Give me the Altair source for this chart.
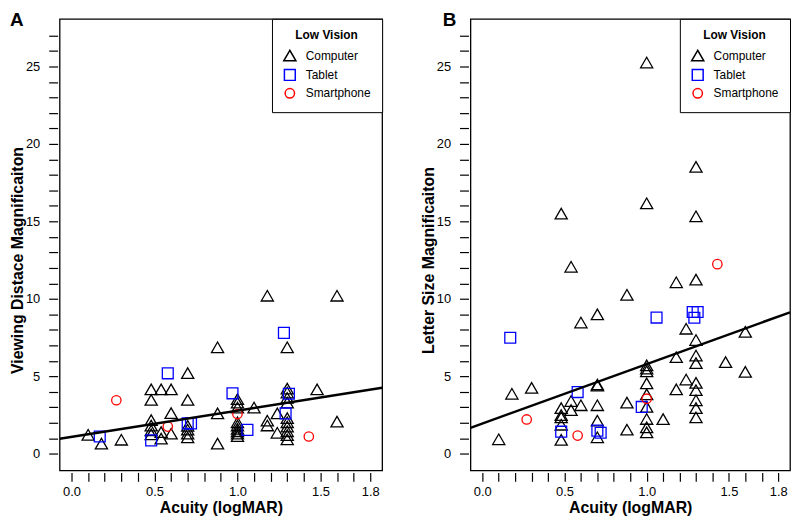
import altair as alt
import pandas as pd

# ---------------- data ----------------
devices = ["Computer", "Tablet", "Smartphone"]
dev_shapes = ["triangle-up", "square", "circle"]
dev_colors = ["#000000", "#0000FF", "#FF0000"]
dev_sizes = [150, 90, 100]

# Computer: acuity (logMAR) -> list of magnification values
computer_A = {
    0.1: [1.22], 0.18: [0.65], 0.3: [0.90],
    0.48: [4.15, 3.47, 2.17, 1.81, 1.5, 1.25],
    0.54: [4.15, 1.39, 0.97],
    0.6: [4.15, 2.62, 1.29],
    0.7: [5.2, 3.47, 1.8, 1.55, 1.3, 1.05],
    0.88: [6.87, 2.6, 0.65],
    1.0: [3.52, 3.3, 2.98, 2.03, 1.82, 1.6, 1.45, 1.29, 1.13],
    1.1: [2.98],
    1.18: [10.2, 2.13, 1.82],
    1.24: [2.6, 1.35],
    1.3: [6.87, 4.2, 3.95, 3.6, 3.3, 2.3, 2.03, 1.75, 1.45, 1.2, 0.92],
    1.48: [4.15],
    1.6: [10.2, 2.07],
}
computer_B = {
    0.1: [0.93], 0.18: [3.87], 0.3: [4.25],
    0.48: [15.5, 2.94, 2.49, 2.34, 1.87, 0.89],
    0.54: [12.07, 3.40, 2.81],
    0.6: [8.47, 3.13],
    0.7: [9.0, 4.47, 4.4, 3.13, 2.13, 1.06],
    0.88: [10.26, 3.3, 1.55],
    1.0: [25.26, 16.17, 5.70, 5.5, 5.32, 4.54, 3.83, 3.02, 2.24, 1.70, 1.38],
    1.1: [2.23],
    1.18: [11.07, 6.23, 4.15],
    1.24: [8.07, 4.79],
    1.3: [18.52, 15.33, 11.24, 7.34, 6.34, 5.85, 4.57, 4.1, 3.45, 2.94, 2.34],
    1.48: [5.91],
    1.6: [7.87, 5.28],
}

tablet_x = [0.17, 0.48, 0.58, 0.70, 0.72, 0.97, 1.06, 1.28, 1.31, 1.29]
tablet_A = [1.11, 0.86, 5.19, 1.96, 1.96, 3.90, 1.54, 7.80, 3.87, 2.60]
tablet_B = [7.49, 1.42, 3.98, 1.49, 1.35, 3.02, 8.79, 9.15, 9.15, 8.78]

phone_x = [0.27, 0.58, 1.00, 1.43]
phone_A = [3.45, 1.75, 2.56, 1.11]
phone_B = [2.21, 1.17, 3.55, 12.24]

# fitted regression lines (end points across the plot)
fit_x = [-0.072, 1.872]
fit_A = [0.96, 4.26]
fit_B = [1.67, 9.13]

x_ticks = [round(i * 0.1, 1) for i in range(19)]
y_ticks = list(range(28))

X_DOMAIN = [-0.072, 1.872]
Y_DOMAIN = [-1.08, 28.08]

PANEL_H = 455


def build_df(comp, tab, phone):
    rows = []
    for xv, ys in comp.items():
        for yv in ys:
            rows.append({"acuity": xv, "mag": yv, "device": "Computer"})
    for xv, yv in zip(tablet_x, tab):
        rows.append({"acuity": xv, "mag": yv, "device": "Tablet"})
    for xv, yv in zip(phone_x, phone):
        rows.append({"acuity": xv, "mag": yv, "device": "Smartphone"})
    return pd.DataFrame(rows)


df_A = build_df(computer_A, tablet_A, phone_A)
df_B = build_df(computer_B, tablet_B, phone_B)
fit_df_A = pd.DataFrame({"acuity": fit_x, "mag": fit_A})
fit_df_B = pd.DataFrame({"acuity": fit_x, "mag": fit_B})

x_label_expr = ("(round(datum.value*10) % 5 == 0 || round(datum.value*10) == 18)"
                " ? format(datum.value, '.1f') : ''")
y_label_expr = "datum.value % 5 == 0 ? datum.value : ''"


def panel(df, fit_df, ytitle, letter, letter_x, width):
    xenc = alt.X("acuity:Q",
                 scale=alt.Scale(domain=X_DOMAIN, nice=False, zero=False),
                 axis=alt.Axis(title="Acuity (logMAR)", values=x_ticks,
                               tickCount=100, tickSize=9,
                               labelExpr=x_label_expr, labelPadding=4,
                               titlePadding=1))
    yenc = alt.Y("mag:Q",
                 scale=alt.Scale(domain=Y_DOMAIN, nice=False, zero=False),
                 axis=alt.Axis(title=ytitle, values=y_ticks, tickCount=100,
                               tickSize=9, labelExpr=y_label_expr,
                               labelPadding=9, titlePadding=0, titleY=243))
    pts = alt.Chart(df).mark_point(filled=False, strokeWidth=1.3, opacity=1).encode(
        x=xenc, y=yenc,
        color=alt.Color("device:N", scale=alt.Scale(domain=devices, range=dev_colors),
                        legend=alt.Legend(title="Low Vision")),
        shape=alt.Shape("device:N", scale=alt.Scale(domain=devices, range=dev_shapes),
                        legend=alt.Legend(title="Low Vision")),
        size=alt.Size("device:N", scale=alt.Scale(domain=devices, range=dev_sizes),
                      legend=alt.Legend(title="Low Vision")),
    )
    line = alt.Chart(fit_df).mark_line(color="black", strokeWidth=2.5, clip=True).encode(
        x="acuity:Q", y="mag:Q")
    tag = alt.Chart(pd.DataFrame({"t": [letter]})).mark_text(
        align="left", baseline="top", fontSize=19, fontWeight="bold",
        font="Liberation Sans", color="black").encode(
        x=alt.value(letter_x), y=alt.value(-8), text="t:N")
    return alt.layer(pts, line, tag).properties(width=width, height=PANEL_H)


pA = panel(df_A, fit_df_A, "Viewing Distace Magnificaiton", "A", -50, 325)
pB = panel(df_B, fit_df_B, "Letter Size Magnificaiton", "B", -28, 322)

chart = alt.hconcat(pA, pB, spacing=35).resolve_legend(
    color="independent", shape="independent", size="independent"
).properties(
    padding={"left": 0, "top": 0, "right": 0, "bottom": 0}
).configure_view(
    stroke="black", strokeWidth=1.3
).configure_axis(
    domain=False, grid=False, tickColor="black", tickWidth=1.2,
    offset=2, labelFont="Liberation Sans", labelFontSize=13, labelColor="black",
    titleFont="Liberation Sans", titleFontSize=16, titleFontWeight="bold",
    titleColor="black", labelOverlap=False, labelFlush=False
).configure_legend(
    orient="top-right", offset=0, strokeColor="black", fillColor="white",
    padding=11, titleFont="Liberation Sans", titleFontSize=12,
    titleFontWeight="bold", titleAnchor="middle", titlePadding=7,
    titleColor="black", labelFont="Liberation Sans", labelFontSize=12,
    labelColor="black", rowPadding=2, labelOffset=9, symbolStrokeWidth=1.5,
    cornerRadius=0
)

chart.save("out.html", embed_options={"renderer": "svg", "actions": False})
